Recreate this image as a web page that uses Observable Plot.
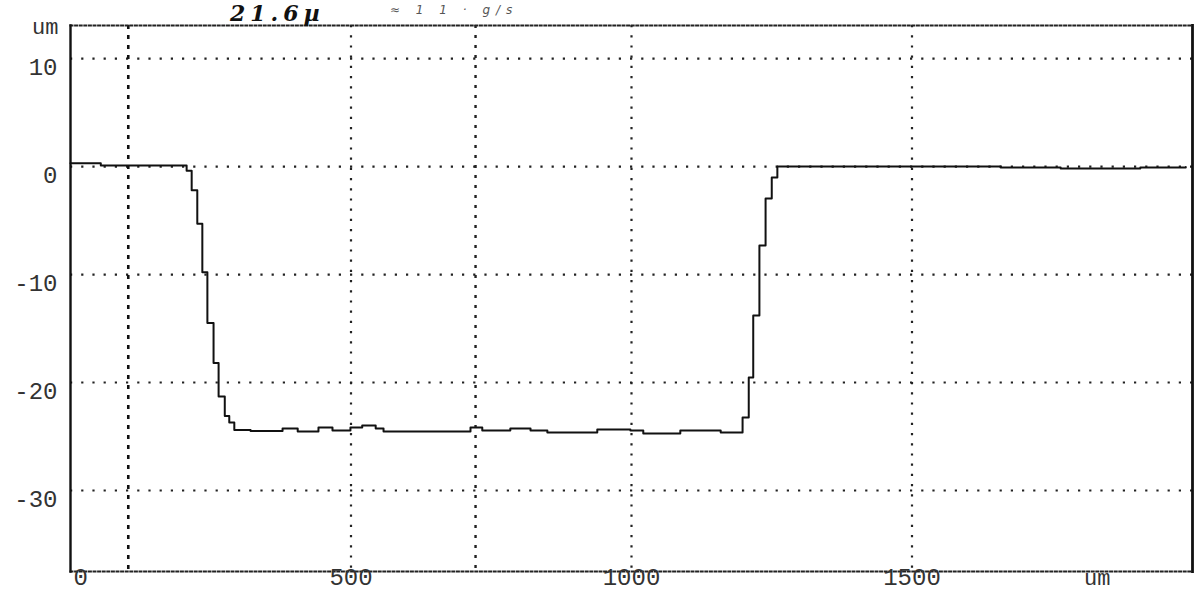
<!DOCTYPE html>
<html>
<head>
<meta charset="utf-8">
<script src="https://cdn.jsdelivr.net/npm/d3@7"></script>
<script src="https://cdn.jsdelivr.net/npm/@observablehq/plot@0.6"></script>
<style>
  html, body { margin: 0; padding: 0; background: #fff; }
  #wrap { position: relative; width: 1202px; height: 598px; overflow: hidden; }
  #note { position: absolute; left: 230px; top: 2px; font-family: "DejaVu Serif", serif; font-style: italic;
          font-weight: bold; font-size: 22px; line-height: 1; color: #111; letter-spacing: 5px; white-space: nowrap; }
  #note2 { position: absolute; left: 390px; top: 4px; font-family: "DejaVu Sans", sans-serif; font-style: italic;
          font-size: 12px; line-height: 1; color: #555; letter-spacing: 6px; white-space: nowrap; }
</style>
</head>
<body>
<div id="wrap">
  <div id="chart"></div>
  <div id="note">21.6µ</div>
  <div id="note2">≈ 1 1 · g/s</div>
</div>
<script>
// Profile scan: position (um) and height (um)
const profileX = [0, 54, 207, 216, 226, 235, 244, 255, 264, 275, 283, 292,
  321, 378, 405, 442, 467, 499, 520, 544, 558, 713, 734, 784, 820, 850, 939, 998, 1021, 1087, 1159,
  1198, 1209, 1217, 1228, 1239, 1250, 1260,
  1480, 1658, 1765, 1854, 1907, 1988];
const profileY = [0.3, 0.1, -0.4, -2.2, -5.3, -9.8, -14.5, -18.2, -21.3, -23.1, -23.7, -24.4,
  -24.5, -24.26, -24.54, -24.17, -24.44, -24.17, -23.98, -24.26, -24.54, -24.17, -24.44, -24.26, -24.44, -24.63, -24.35, -24.44, -24.72, -24.44, -24.63,
  -23.24, -19.54, -13.8, -7.31, -2.96, -1.02, 0,
  0, -0.09, -0.19, -0.19, -0.09, -0.05];

// Axis ticks and labels
const xTicks = [500, 1000, 1500];
const xLabelValues = [0, 500, 1000, 1500];
const xLabels = ["0", "500", "1000", "1500"];
const xUnit = "um";
const xUnitAt = 1830;
const yTicks = [10, 0, -10, -20, -30];
const yLabels = ["10", "0", "-10", "-20", "-30"];
const yUnit = "um";
// Cursor marker lines
const markers = [103, 722];

const profile = profileX.map((x, i) => ({x, y: profileY[i]}));
const font = "'Liberation Mono', 'DejaVu Sans Mono', monospace";

const chart = Plot.plot({
  width: 1202,
  height: 598,
  marginLeft: 70,
  marginRight: 10,
  marginTop: 25,
  marginBottom: 27,
  x: {domain: [0, 2000], axis: null},
  y: {domain: [-37.5, 13.06], axis: null},
  style: {background: "#fff", overflow: "visible"},
  marks: [
    // horizontal grid
    Plot.ruleY(yTicks, {stroke: "#222", strokeWidth: 2.2, strokeDasharray: "2.2,9"}),
    // vertical grid
    Plot.ruleX(xTicks, {stroke: "#222", strokeWidth: 2.2, strokeDasharray: "2.2,8"}),
    Plot.ruleX(markers.slice(0, 1), {stroke: "#111", strokeWidth: 2.6, strokeDasharray: "4,6"}),
    Plot.ruleX(markers.slice(1), {stroke: "#222", strokeWidth: 2.4, strokeDasharray: "3,7"}),
    // frame
    Plot.frame({anchor: "top", stroke: "#222", strokeWidth: 2, strokeDasharray: "2,2.6"}),
    Plot.frame({anchor: "bottom", stroke: "#222", strokeWidth: 2, strokeDasharray: "2,2.6"}),
    Plot.frame({anchor: "left", stroke: "#111", strokeWidth: 2.4}),
    Plot.frame({anchor: "right", stroke: "#111", strokeWidth: 2.8}),
    // profile
    Plot.line(profile, {x: "x", y: "y", curve: "step-after", stroke: "#111", strokeWidth: 2}),
    // y labels
    Plot.text(yTicks, {y: d => d, text: (d, i) => yLabels[i], frameAnchor: "left", textAnchor: "end",
      dx: -13, dy: 9, fontFamily: font, fontSize: 24, fill: "#333"}),
    Plot.text([yUnit], {frameAnchor: "top-left", textAnchor: "end", dx: -12, dy: -7,
      fontFamily: font, fontSize: 22, fill: "#333"}),
    // x labels
    Plot.text(xLabelValues.slice(0, 1), {x: d => d, text: (d, i) => xLabels[i], frameAnchor: "bottom", textAnchor: "start",
      dx: 3, dy: 13, fontFamily: font, fontSize: 24, fill: "#333"}),
    Plot.text(xLabelValues.slice(1), {x: d => d, text: (d, i) => xLabels[i + 1], frameAnchor: "bottom",
      dy: 13, fontFamily: font, fontSize: 24, fill: "#333"}),
    Plot.text([xUnitAt], {x: d => d, text: () => xUnit, frameAnchor: "bottom",
      dy: 13, fontFamily: font, fontSize: 22, fill: "#333"})
  ]
});
document.getElementById("chart").appendChild(chart);
</script>
</body>
</html>
